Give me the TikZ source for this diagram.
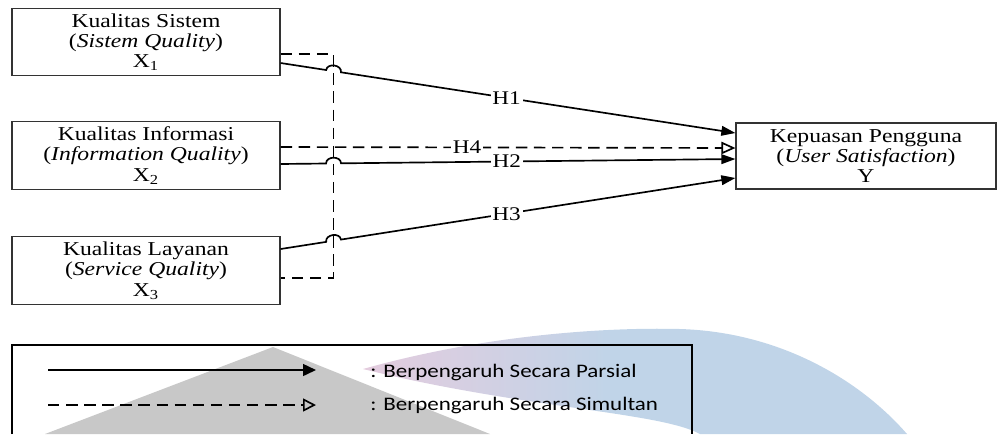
\documentclass[tikz,border=0pt]{standalone}
\usepackage{fontspec}
\setmainfont{Liberation Serif}[FakeStretch=1.2]
\newfontfamily\legendfont{Carlito}[FakeStretch=1.2]
\usetikzlibrary{arrows.meta,calc}

\definecolor{wmgrey}{RGB}{200,200,200}
\definecolor{wmpink}{RGB}{228,204,222}
\definecolor{wmblue}{RGB}{192,212,232}
\pgfdeclarehorizontalshading{wmband}{100bp}{color(0bp)=(wmpink); color(25bp)=(wmpink);
  color(48bp)=(wmblue); color(100bp)=(wmblue)}

\tikzset{
  varbox/.style={draw=black!80, line width=0.7pt, minimum width=5.36cm, minimum height=1.35cm,
    inner sep=0pt, align=center, font=\fontsize{11.2}{11.6}\selectfont},
  partial/.style={line width=0.95pt, -{Triangle[length=8pt,width=5.5pt]}},
  simultan/.style={line width=0.95pt, dash pattern=on 6.5pt off 3.8pt, -{Triangle[open,length=8pt,width=7pt]}},
  bus/.style={line width=0.95pt, dash pattern=on 6.5pt off 3.8pt},
  hlabel/.style={fill=white, inner sep=1pt, font=\fontsize{11}{12}\selectfont},
  hopover/.style={bend left=90, looseness=1.3},
  legendtext/.style={anchor=west, inner sep=0pt, font=\legendfont\fontsize{10.9}{12}\selectfont},
}

\begin{document}
\begin{tikzpicture}[x=0.02cm, y=-0.02cm]
\useasboundingbox (0,0) rectangle (997,434);

% watermark in the background
\fill[wmgrey] (273,347) -- (45,434) -- (490,434) -- cycle;
\shade[shading=wmband]
  (363,369) .. controls (480,336) and (600,327) .. (680,329)
  .. controls (780,332) and (860,380) .. (907,434) -- (700,434)
  .. controls (660,412) and (520,408) .. (363,369) -- cycle;

% variables
\node[varbox] (sis) at (146,42) {Kualitas Sistem\\(\textit{Sistem Quality})\\X\textsubscript{1}};
\node[varbox] (inf) at (146,155.5) {Kualitas Informasi\\(\textit{Information Quality})\\X\textsubscript{2}};
\node[varbox] (lay) at (146,270.5) {Kualitas Layanan\\(\textit{Service Quality})\\X\textsubscript{3}};
\node[varbox, minimum width=5.2cm, minimum height=1.32cm] (kep) at (866,156) {Kepuasan Pengguna\\(\textit{User Satisfaction})\\Y};

% ports on the boxes
\coordinate (sis-p) at ([yshift=-0.42cm]sis.east);
\coordinate (sis-s) at ([yshift=-0.24cm]sis.east);
\coordinate (inf-s) at ([yshift=0.17cm]inf.east);
\coordinate (inf-p) at ([yshift=-0.17cm]inf.east);
\coordinate (lay-p) at ([yshift=0.43cm]lay.east);
\coordinate (lay-s) at ([yshift=-0.15cm]lay.east);
\coordinate (kep-1) at ([yshift=0.46cm]kep.west);
\coordinate (kep-4) at ([yshift=0.16cm]kep.west);
\coordinate (kep-2) at ([yshift=-0.06cm]kep.west);
\coordinate (kep-3) at ([yshift=-0.44cm]kep.west);

% simultaneous effect
\coordinate (bus-t) at ([xshift=1.06cm]sis-s);
\coordinate (bus-b) at ([xshift=1.06cm]lay-s);
\draw[bus] (sis-s) -- (bus-t) -- (bus-b) -- (lay-s);
\draw[simultan] (inf-s) -- node[hlabel, pos=0.41] {H4} (kep-4);

% partial effects, hopping over the dashed line
\coordinate (x1) at (intersection of sis-p--kep-1 and bus-t--bus-b);
\coordinate (x2) at (intersection of inf-p--kep-2 and bus-t--bus-b);
\coordinate (x3) at (intersection of lay-p--kep-3 and bus-t--bus-b);
\draw[partial] (sis-p) -- ($(x1)!0.15cm!(sis-p)$) to[hopover] ($(x1)!0.15cm!(kep-1)$)
  -- node[hlabel, pos=0.42] {H1} (kep-1);
\draw[partial] (inf-p) -- ($(x2)!0.15cm!(inf-p)$) to[hopover] ($(x2)!0.15cm!(kep-2)$)
  -- node[hlabel, pos=0.42] {H2} (kep-2);
\draw[partial] (lay-p) -- ($(x3)!0.15cm!(lay-p)$) to[hopover] ($(x3)!0.15cm!(kep-3)$)
  -- node[hlabel, pos=0.42] {H3} (kep-3);

% legend
\draw[line width=0.8pt] (12,434) |- (692,345) -- (692,434);
\coordinate (lp-a) at (48,370);
\coordinate (lp-b) at (316,370);
\coordinate (ls-a) at (48,405);
\coordinate (ls-b) at (316,405);
\draw[partial, -{Triangle[length=7.4pt,width=6.8pt]}] (lp-a) -- (lp-b);
\draw[simultan, -{Triangle[open,length=7.4pt,width=7.4pt]}] (ls-a) -- (ls-b);
\node[legendtext] (lp-t) at (370,372) {: Berpengaruh Secara Parsial};
\node[legendtext] (ls-t) at (370,405) {: Berpengaruh Secara Simultan};

\end{tikzpicture}
\end{document}
